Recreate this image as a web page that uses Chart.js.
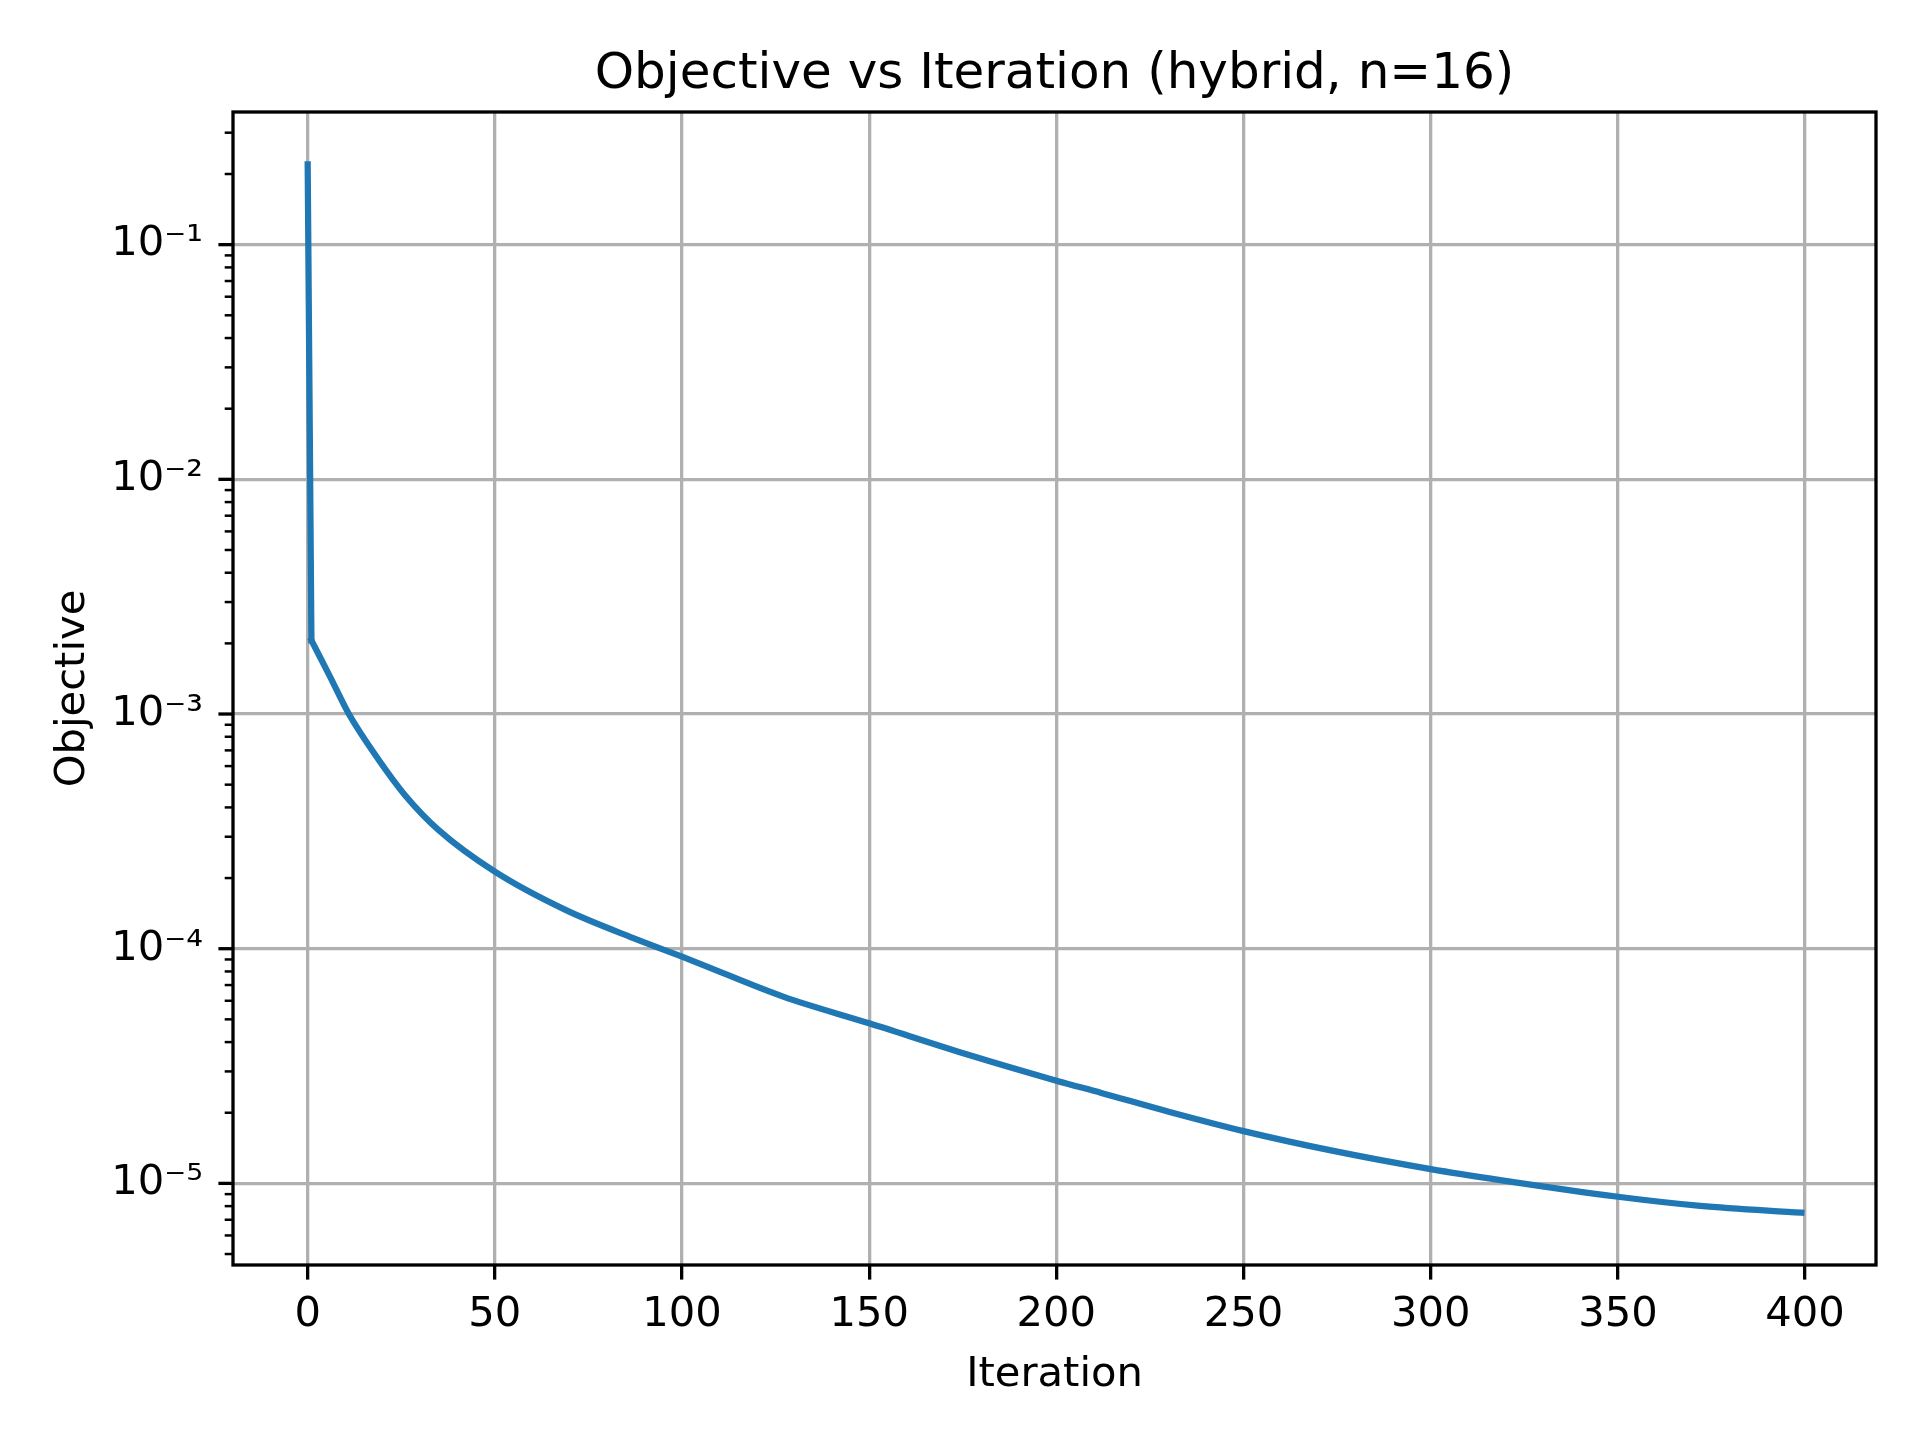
<!DOCTYPE html>
<html>

<head>
  <meta charset="UTF-8">
  <title>Objective vs Iteration</title>
  <script src="https://cdn.jsdelivr.net/npm/chart.js"></script>
  <style>
    body {
      margin: 0;
      padding: 0;
      background: #fff;
    }

    #chart-container {
      width: 1920px;
      height: 1440px;
    }
  </style>
</head>

<body>
  <div id="chart-container">
    <canvas id="objectiveChart" width="1920" height="1440"></canvas>
  </div>

  <script>
    // values (iteration, objective)
    var iterations = [0, 1, 6, 11, 19, 26, 35, 50, 69, 87, 100, 105, 127, 150, 176, 200, 212, 230, 250, 274, 300, 319, 350, 372, 399];
    var objective = [0.220, 2.06e-3, 1.44e-3, 1.0e-3, 6.37e-4, 4.51e-4, 3.2e-4, 2.13e-4, 1.46e-4, 1.11e-4,
      9.25e-5, 8.6e-5, 6.25e-5, 4.81e-5, 3.55e-5, 2.74e-5, 2.43e-5, 2.02e-5, 1.67e-5, 1.375e-5,
      1.15e-5, 1.03e-5, 8.77e-6, 8.02e-6, 7.5e-6];

    // axis ticks
    var xTicks = [0, 50, 100, 150, 200, 250, 300, 350, 400];
    var yMajorTicks = [1e-5, 1e-4, 1e-3, 1e-2, 1e-1];
    var yMajorLabels = ['10\u207B\u2075', '10\u207B\u2074', '10\u207B\u00B3', '10\u207B\u00B2', '10\u207B\u00B9'];

    var X_MIN = -19.95, X_MAX = 418.95;
    var Y_MIN = 4.49e-6, Y_MAX = 0.3675;

    var FONT = 'DejaVu Sans';
    var LABEL_SIZE = 41.67;
    var LINE_COLOR = '#1f77b4';

    Chart.defaults.color = '#000';
    Chart.defaults.font.family = FONT;

    // y ticks: majors plus 2..9 minors inside the range
    function buildYTicks() {
      var list = [];
      for (var e = -6; e <= 0; e++) {
        for (var m = 1; m <= 9; m++) {
          var v = m * Math.pow(10, e);
          if (v >= Y_MIN && v <= Y_MAX) list.push({ value: v, major: m === 1 });
        }
      }
      return list;
    }

    // frame + y tick marks (major long, minor short)
    var axisFrame = {
      id: 'axisFrame',
      afterDraw: function (chart) {
        var ctx = chart.ctx;
        var a = chart.chartArea;
        var y = chart.scales.y;
        ctx.save();
        ctx.strokeStyle = '#000';
        y.ticks.forEach(function (t) {
          var py = y.getPixelForValue(t.value);
          ctx.lineWidth = t.major ? 3.3 : 2.5;
          var len = t.major ? 14.6 : 8.3;
          ctx.beginPath();
          ctx.moveTo(a.left, py);
          ctx.lineTo(a.left - len, py);
          ctx.stroke();
        });
        ctx.lineWidth = 3.3;
        ctx.lineJoin = 'miter';
        ctx.strokeRect(a.left, a.top, a.right - a.left, a.bottom - a.top);
        ctx.restore();
      }
    };

    var points = iterations.map(function (it, i) {
      return { x: it, y: objective[i] };
    });

    // the first drop (iteration 0 -> 1) is drawn straight, the rest smooth
    var lineStyle = {
      borderColor: LINE_COLOR,
      borderWidth: 6.25,
      pointRadius: 0,
      fill: false,
      borderJoinStyle: 'round',
      borderCapStyle: 'square'
    };

    var ctx = document.getElementById('objectiveChart').getContext('2d');
    var objectiveChart = new Chart(ctx, {
      type: 'line',
      data: {
        datasets: [
          Object.assign({ data: points.slice(0, 2), tension: 0 }, lineStyle),
          Object.assign({ data: points.slice(1), cubicInterpolationMode: 'monotone' }, lineStyle)
        ]
      },
      options: {
        responsive: false,
        animation: false,
        devicePixelRatio: 1,
        layout: {
          padding: { left: 0, right: 44, top: 0, bottom: 0 }
        },
        plugins: {
          legend: { display: false },
          tooltip: { enabled: false },
          title: {
            display: true,
            fullSize: false,
            text: 'Objective vs Iteration (hybrid, n=16)',
            color: '#000',
            font: { family: FONT, size: 50, weight: 'normal', lineHeight: 1.2 },
            padding: { top: 45, bottom: 7 }
          }
        },
        scales: {
          x: {
            type: 'linear',
            min: X_MIN,
            max: X_MAX,
            afterBuildTicks: function (scale) {
              scale.ticks = xTicks.map(function (v) { return { value: v }; });
            },
            afterFit: function (scale) {
              scale.height = 175;
            },
            ticks: {
              autoSkip: false,
              maxRotation: 0,
              padding: 11,
              color: '#000',
              font: { family: FONT, size: LABEL_SIZE, lineHeight: 1.2 },
              callback: function (value) { return String(value); }
            },
            grid: {
              color: '#b0b0b0',
              lineWidth: 3.3,
              drawTicks: true,
              tickLength: 14.6,
              tickWidth: 3.3,
              tickColor: '#000'
            },
            border: { display: false },
            title: {
              display: true,
              text: 'Iteration',
              color: '#000',
              font: { family: FONT, size: LABEL_SIZE, lineHeight: 1.2 },
              padding: { top: 0, bottom: 40 }
            }
          },
          y: {
            type: 'logarithmic',
            min: Y_MIN,
            max: Y_MAX,
            afterBuildTicks: function (scale) {
              scale.ticks = buildYTicks();
            },
            afterFit: function (scale) {
              scale.width = 233;
            },
            ticks: {
              autoSkip: false,
              padding: 30,
              color: '#000',
              font: { family: FONT, size: LABEL_SIZE, lineHeight: 1.2 },
              callback: function (value, index, ticks) {
                if (!ticks[index].major) return '';
                var k = yMajorTicks.findIndex(function (m) { return Math.abs(m - value) / m < 1e-6; });
                return k >= 0 ? yMajorLabels[k] : '';
              }
            },
            grid: {
              color: function (c) {
                return c.tick && c.tick.major ? '#b0b0b0' : 'rgba(0,0,0,0)';
              },
              lineWidth: 3.3,
              drawTicks: false
            },
            border: { display: false },
            title: {
              display: true,
              text: 'Objective',
              color: '#000',
              font: { family: FONT, size: LABEL_SIZE, lineHeight: 1.2 },
              padding: { top: 48, bottom: 0 }
            }
          }
        }
      },
      plugins: [axisFrame]
    });
  </script>
</body>

</html>
